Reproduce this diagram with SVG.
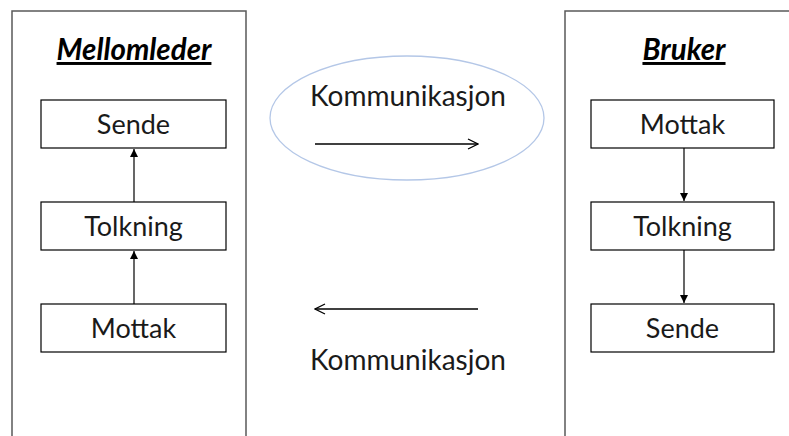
<svg xmlns="http://www.w3.org/2000/svg" width="789" height="436" viewBox="0 0 789 436">
  <style>
    .panel { fill: #ffffff; stroke: #595959; stroke-width: 1.5; }
    .box { fill: #ffffff; stroke: #000000; stroke-width: 1.2; }
    .label { font-family: Lato, "Open Sans", sans-serif; font-size: 27px; fill: #1a1a1a; text-anchor: middle; }
    .title { font-family: Lato, "Open Sans", sans-serif; font-size: 29.5px; font-weight: bold; font-style: italic; text-decoration: underline; fill: #000000; text-anchor: middle; }
    .comm { font-family: Lato, "Open Sans", sans-serif; font-size: 28px; fill: #1a1a1a; text-anchor: middle; }
    .flow { stroke: #000000; stroke-width: 1.2; fill: none; }
    .msg { stroke: #000000; stroke-width: 1.3; fill: none; }
  </style>
  <defs>
    <marker id="solid" viewBox="0 0 10 10" refX="10" refY="5" markerWidth="8" markerHeight="8" markerUnits="userSpaceOnUse" orient="auto">
      <path d="M0,0 L10,5 L0,10 Z" fill="#000000"/>
    </marker>
    <marker id="open" viewBox="0 0 12 12" refX="11" refY="6" markerWidth="12" markerHeight="12" markerUnits="userSpaceOnUse" orient="auto">
      <path d="M1,1 L11,6 L1,11" fill="none" stroke="#000000" stroke-width="1.3"/>
    </marker>
  </defs>

  <rect width="789" height="436" fill="#ffffff"/>

  <!-- Left swimlane -->
  <g id="mellomleder">
    <rect class="panel" x="12" y="11" width="234" height="440"/>
    <text class="title" x="134" y="60">Mellomleder</text>
  </g>
  <g id="m-sende">
    <rect class="box" x="41" y="100" width="185" height="48"/>
    <text class="label" x="133.5" y="134">Sende</text>
  </g>
  <g id="m-tolkning">
    <rect class="box" x="41" y="202" width="185" height="48"/>
    <text class="label" x="133.5" y="236">Tolkning</text>
  </g>
  <g id="m-mottak">
    <rect class="box" x="41" y="304" width="185" height="48"/>
    <text class="label" x="133.5" y="338">Mottak</text>
  </g>

  <!-- Right swimlane -->
  <g id="bruker">
    <rect class="panel" x="565" y="11" width="240" height="440"/>
    <text class="title" x="684" y="60">Bruker</text>
  </g>
  <g id="b-mottak">
    <rect class="box" x="591" y="100" width="183" height="48"/>
    <text class="label" x="682.5" y="134">Mottak</text>
  </g>
  <g id="b-tolkning">
    <rect class="box" x="591" y="202" width="183" height="48"/>
    <text class="label" x="682.5" y="236">Tolkning</text>
  </g>
  <g id="b-sende">
    <rect class="box" x="591" y="304" width="183" height="48"/>
    <text class="label" x="682.5" y="338">Sende</text>
  </g>

  <!-- Communication between lanes -->
  <g id="kommunikasjon-ut">
    <ellipse cx="407" cy="118" rx="137" ry="62" fill="#ffffff" stroke="#b4c7e7" stroke-width="1.3"/>
    <text class="comm" x="408" y="106">Kommunikasjon</text>
  </g>
  <g id="kommunikasjon-inn">
    <text class="comm" x="408" y="370">Kommunikasjon</text>
  </g>

  <g id="connectors">
    <line class="flow" x1="134" y1="202" x2="134" y2="149" marker-end="url(#solid)"/>
    <line class="flow" x1="134" y1="304" x2="134" y2="251" marker-end="url(#solid)"/>
    <line class="flow" x1="684" y1="148" x2="684" y2="201" marker-end="url(#solid)"/>
    <line class="flow" x1="684" y1="250" x2="684" y2="303" marker-end="url(#solid)"/>
    <line class="msg" x1="315" y1="144" x2="478" y2="144" marker-end="url(#open)"/>
    <line class="msg" x1="478" y1="309" x2="315" y2="309" marker-end="url(#open)"/>
  </g>
</svg>
